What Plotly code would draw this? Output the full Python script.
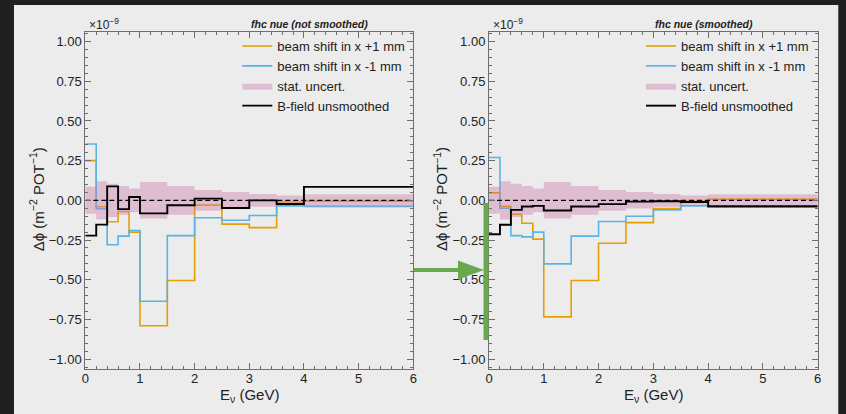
import plotly.graph_objects as go

# ---------------- data (units of 1e-9 m^-2 POT^-1) ----------------
edges = [0, 0.2, 0.4, 0.6, 0.8, 1.0, 1.5, 2.0, 2.5, 3.0, 3.5, 4.0, 6.0]
stat_err = [0.085, 0.12, 0.105, 0.09, 0.075, 0.115, 0.09, 0.065, 0.052, 0.04, 0.03, 0.038]

ns_plus = [0.25, -0.04, -0.135, -0.07, -0.20, -0.79, -0.505, -0.03, -0.15, -0.172, -0.01, -0.005]
ns_minus = [0.355, -0.053, -0.28, -0.225, -0.19, -0.635, -0.222, -0.11, -0.125, -0.095, -0.035, -0.038]
ns_bfield = [-0.222, -0.153, 0.088, -0.055, 0.021, -0.082, -0.031, 0.011, -0.048, 0.0, -0.023, 0.085]

sm_plus = [0.047, -0.038, -0.088, -0.144, -0.244, -0.734, -0.505, -0.27, -0.14, -0.052, -0.005, 0.008]
sm_minus = [0.27, -0.05, -0.222, -0.23, -0.20, -0.40, -0.225, -0.133, -0.10, -0.06, -0.035, -0.043]
sm_bfield = [-0.213, -0.154, -0.06, -0.039, -0.035, -0.064, -0.039, -0.024, -0.008, -0.006, -0.01, -0.037]

titles = ["fhc nue (not smoothed)", "fhc nue (smoothed)"]
names = ["beam shift in x +1 mm", "beam shift in x -1 mm", "stat. uncert.", "B-field unsmoothed"]
x_ticks = [0, 1, 2, 3, 4, 5, 6]
y_ticks = [-1.0, -0.75, -0.5, -0.25, 0.0, 0.25, 0.5, 0.75, 1.0]

# ---------------- style ----------------
W, H = 846, 414
ORANGE = "#E69F00"
BLUE = "#56B4E9"
PINK = "rgba(204,121,167,0.40)"
GREEN = "#6aa84f"
FONT = "Liberation Sans, Arial, Helvetica, sans-serif"
TXT = "#222222"
AX = "#6e6e6e"


def px(x):
    return x / W


def py(y):
    return 1 - y / H


def step(vals):
    return list(vals) + [vals[-1]]


fig = go.Figure()

panels = [
    dict(plus=ns_plus, minus=ns_minus, bf=ns_bfield, xa="x", ya="y", leg="legend",
         x0=85.3, x1=413.3),
    dict(plus=sm_plus, minus=sm_minus, bf=sm_bfield, xa="x2", ya="y2", leg="legend2",
         x0=489.0, x1=817.7),
]

for p in panels:
    fig.add_trace(go.Scatter(x=edges, y=step(p["plus"]), mode="lines", line_shape="hv",
                             line=dict(color=ORANGE, width=1.6), name=names[0],
                             xaxis=p["xa"], yaxis=p["ya"], legend=p["leg"]))
    fig.add_trace(go.Scatter(x=edges, y=step(p["minus"]), mode="lines", line_shape="hv",
                             line=dict(color=BLUE, width=1.6), name=names[1],
                             xaxis=p["xa"], yaxis=p["ya"], legend=p["leg"]))
    fig.add_trace(go.Scatter(x=edges, y=step(stat_err), mode="lines", line_shape="hv",
                             line=dict(width=0, color=PINK), showlegend=False,
                             hoverinfo="skip", xaxis=p["xa"], yaxis=p["ya"], legend=p["leg"]))
    fig.add_trace(go.Scatter(x=edges, y=step([-e for e in stat_err]), mode="lines",
                             line_shape="hv", line=dict(width=0, color=PINK), fill="tonexty",
                             fillcolor=PINK, name=names[2],
                             xaxis=p["xa"], yaxis=p["ya"], legend=p["leg"]))
    fig.add_trace(go.Scatter(x=edges, y=step(p["bf"]), mode="lines", line_shape="hv",
                             line=dict(color="black", width=1.9), name=names[3],
                             xaxis=p["xa"], yaxis=p["ya"], legend=p["leg"]))
    fig.add_trace(go.Scatter(x=[edges[0], edges[-1]], y=[0, 0], mode="lines",
                             line=dict(color="black", width=1.4, dash="5px,3px"),
                             showlegend=False, hoverinfo="skip",
                             xaxis=p["xa"], yaxis=p["ya"]))

ytop, ybot = 31.7, 369.0
axis_common = dict(showline=True, linecolor=AX, linewidth=1, mirror="allticks",
                   ticks="inside", ticklen=6, tickcolor=AX, tickwidth=1,
                   showgrid=False, zeroline=False, automargin=False,
                   tickfont=dict(family=FONT, size=13, color=TXT))

layout = dict(
    width=W, height=H,
    margin=dict(l=0, r=0, t=0, b=0, pad=0, autoexpand=False),
    paper_bgcolor="#1f1f1f",
    plot_bgcolor="white",
    showlegend=True,
    font=dict(family=FONT, color=TXT),
)

for i, p in enumerate(panels):
    sfx = "" if i == 0 else "2"
    layout["xaxis" + sfx] = dict(
        axis_common, domain=[px(p["x0"]), px(p["x1"])], range=[0, 6],
        tickvals=x_ticks, anchor="y" + sfx, ticklabelstandoff=-3,
        minor=dict(dtick=0.2, tick0=0, ticks="inside", ticklen=3, tickcolor=AX),
    )
    layout["yaxis" + sfx] = dict(
        axis_common, domain=[py(ybot), py(ytop)], range=[-1.062, 1.062],
        tickvals=y_ticks, tickformat=".2f", anchor="x" + sfx,
        minor=dict(dtick=0.05, tick0=0, ticks="inside", ticklen=3, tickcolor=AX),
    )
    leg_name = "legend" if i == 0 else "legend2"
    layout[leg_name] = dict(
        x=px(p["x0"] + 152), y=py(31), xanchor="left", yanchor="top",
        bgcolor="rgba(0,0,0,0)", borderwidth=0, itemwidth=30, traceorder="normal",
        font=dict(family=FONT, size=13, color=TXT), tracegroupgap=0,
    )

fig.update_layout(**layout)

shapes = []
# light panel
shapes.append(dict(type="rect", xref="paper", yref="paper", x0=px(14), x1=px(838.3),
                   y0=py(5), y1=py(420), fillcolor="#ececec", line=dict(width=0), layer="below"))
# green arrow
shapes.append(dict(type="line", xref="paper", yref="paper", x0=px(414), x1=px(461),
                   y0=py(270), y1=py(270), line=dict(color=GREEN, width=4)))
shapes.append(dict(type="path", xref="paper", yref="paper",
                   path=f"M {px(458)} {py(260.5)} L {px(484)} {py(270)} L {px(458)} {py(279.5)} Z",
                   fillcolor=GREEN, line=dict(width=0)))
shapes.append(dict(type="line", xref="paper", yref="paper", x0=px(486), x1=px(486),
                   y0=py(203), y1=py(340), line=dict(color=GREEN, width=5)))
fig.update_layout(shapes=shapes)

annotations = []
for i, p in enumerate(panels):
    xa = "x" if i == 0 else "x2"
    annotations.append(dict(text="<b><i>" + titles[i] + "</i></b>", xref=xa, yref="paper",
                            x=3.0, y=py(23.5), xanchor="left", yanchor="middle",
                            showarrow=False, font=dict(family=FONT, size=10.5, color=TXT)))
    annotations.append(dict(text="×10<sup>−9</sup>", xref="paper", yref="paper",
                            x=px(p["x0"] + 1.5), y=py(23.5), xanchor="left", yanchor="middle",
                            showarrow=False, font=dict(family=FONT, size=12, color=TXT)))
    annotations.append(dict(text="Δϕ (m<sup>−2</sup> POT<sup>−1</sup>)", xref="paper",
                            yref="paper", x=px(p["x0"] - 49), y=py(199), textangle=-90,
                            xanchor="center", yanchor="middle", showarrow=False,
                            font=dict(family=FONT, size=15, color=TXT)))
    annotations.append(dict(text="E<sub>ν</sub> (GeV)", xref="paper", yref="paper",
                            x=px((p["x0"] + p["x1"]) / 2), y=py(395), xanchor="center",
                            yanchor="middle", showarrow=False,
                            font=dict(family=FONT, size=15, color=TXT)))
fig.update_layout(annotations=annotations)

fig.write_html("out.html")
